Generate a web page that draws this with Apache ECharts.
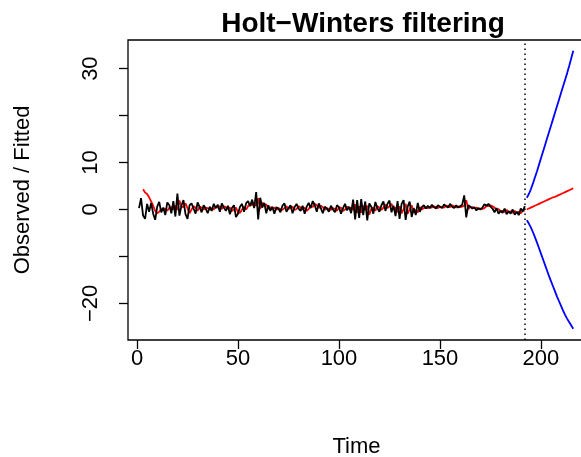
<!DOCTYPE html>
<html>
<head>
<meta charset="utf-8">
<script src="https://cdn.jsdelivr.net/npm/echarts@6/dist/echarts.min.js"></script>
<style>html,body{margin:0;padding:0;background:#fff}#c{width:581px;height:457px}</style>
</head>
<body>
<div id="c"></div>
<script>
// Observed series, time 1..192
const observed = [
 0.3, 2.4, -1.3, -2.0, 1.2, -0.5, 1.4, -0.9, -2.2, 0.6,
 1.6, -0.6, 0.4, -1.2, 1.5, 0.9, -0.8, 1.8, -1.5, 3.4,
 -1.3, 0.8, 2.0, -1.0, -2.0, 0.9, 1.3, 0.2, -0.9, 1.5,
 0.5, -0.6, 0.9, 0.2, -0.8, 0.6, -0.3, 1.2, 0.3, 1.0,
 -0.5, 1.3, 0.4, -0.3, 0.8, -1.0, 0.3, 0.9, -1.6, -0.9,
 0.6, 1.2, -0.5, 1.3, 1.8, 0.7, 2.1, 0.3, 3.7, -2.1,
 2.5, 0.4, 1.4, -0.8, 0.9, -0.3, 0.6, -0.9, 0.5, 0.2,
 -0.6, 0.8, 1.3, -0.5, 0.3, 0.9, -0.8, 0.5, 1.2, 0.2,
 -0.3, 0.8, -0.9, 0.6, 1.4, 0.3, 1.8, 0.9, -0.5, 1.3,
 0.3, -0.8, 0.6, 0.2, -0.5, 0.8, 0.0, -0.6, 0.9, 0.5,
 -0.9, 0.3, 1.2, -0.2, 0.6, -0.8, 2.1, -2.1, 2.0, -1.8,
 2.2, -1.2, 1.7, -2.3, 1.3, 0.6, -0.9, 1.6, 0.3, -0.5,
 0.9, 1.7, -0.3, 1.2, 1.9, -0.6, 0.8, -1.4, 1.8, -2.0,
 1.2, 2.0, -2.2, 0.6, 1.7, -1.6, 0.3, -1.2, 1.4, -0.5,
 0.5, 0.9, 0.2, 0.8, 0.3, 1.0, 0.5, 0.2, 0.9, 0.6,
 0.3, 1.1, 0.7, 0.4, 1.2, 0.6, 0.3, 0.9, 0.4, 0.7,
 1.0, 3.0, -1.7, 0.9, 0.6, 0.2, 0.5, -0.2, 0.3, 0.0,
 0.4, 1.1, 0.8, 1.2, 0.6, 0.2, -0.6, 0.3, -0.9, -0.3,
 -0.7, 0.2, -1.0, -0.4, -0.9, 0.0, -1.1, -0.5, -1.2, 0.2, -0.4, 0.7
];
const observedStart = 1;

// Fitted values, time 3..192
const fitted = [
 4.3, 3.6, 3.3, 2.6, 1.7, 0.8, -0.3, -0.8,
 -0.5, 0.1, -0.1, 0.2, -0.3, 0.4, 0.5, 0.0, 0.8, -0.1,
 1.9, 0.6, 0.5, 1.3, 0.3, -0.8, 0.0, 0.7, 0.4, -0.3,
 0.6, 0.4, 0.0, 0.4, 0.3, -0.1, 0.3, 0.0, 0.6, 0.4,
 0.7, 0.1, 0.7, 0.5, 0.1, 0.4, -0.3, 0.0, 0.4, -0.6,
 -0.7, 0.0, 0.6, 0.0, 0.7, 1.2, 0.9, 1.5, 0.8, 2.4,
 0.1, 1.5, 0.8, 1.1, 0.1, 0.5, 0.1, 0.4, -0.1, 0.3,
 0.1, -0.1, 0.3, 0.7, 0.1, 0.3, 0.6, -0.1, 0.1, 0.7,
 0.4, 0.0, 0.4, -0.3, 0.1, 0.8, 0.5, 1.2, 0.9, 0.3,
 0.8, 0.5, -0.1, 0.3, 0.1, -0.1, 0.3, 0.1, -0.3, 0.4,
 0.4, -0.3, 0.0, 0.6, 0.1, 0.4, -0.1, 1.1, -0.7, 0.7,
 -0.7, 0.8, -0.1, 0.8, -1.1, 0.1, 0.4, -0.3, 0.7, 0.4,
 -0.1, 0.4, 1.1, 0.3, 0.7, 1.2, 0.1, 0.4, -0.6, 0.7,
 -0.8, 0.1, 1.2, -0.9, 0.0, 0.9, -0.7, -0.1, -0.6, 0.5,
 0.0, 0.3, 0.5, 0.3, 0.5, 0.4, 0.7, 0.5, 0.3, 0.6,
 0.5, 0.4, 0.8, 0.7, 0.5, 0.9, 0.7, 0.4, 0.7, 0.5,
 0.6, 0.8, 2.0, 0.1, 0.5, 0.5, 0.3, 0.4, 0.1, 0.2,
 0.1, 0.3, 0.7, 0.7, 0.9, 0.7, 0.4, 0.0, 0.1, -0.4,
 -0.3, -0.5, -0.1, -0.5, -0.4, -0.7, -0.3, -0.7, -0.5, -0.8, -0.3, -0.2
];
const fittedStart = 3;

// Predictions, time 193..216
const predFit = [0.0, 0.2, 0.4, 0.6, 0.8, 1.0, 1.2, 1.4, 1.6, 1.8, 2.0, 2.2,
                 2.4, 2.6, 2.7, 2.9, 3.1, 3.3, 3.5, 3.7, 3.9, 4.1, 4.3, 4.5];
const predUpper = [2.5, 3.3, 4.3, 5.5, 6.8, 8.1, 9.5, 10.9, 12.3, 13.7, 15.1, 16.5,
                   17.9, 19.3, 20.7, 22.1, 23.5, 24.9, 26.3, 27.7, 29.1, 30.6, 32.2, 33.8];
const predLower = [-2.3, -3.0, -3.8, -4.8, -5.9, -7.0, -8.2, -9.4, -10.6, -11.8, -13.0, -14.2,
                   -15.3, -16.4, -17.5, -18.6, -19.6, -20.6, -21.6, -22.5, -23.3, -24.0, -24.7, -25.4];
const predStart = 193;
const endObserved = 192;

const xTicks = [0, 50, 100, 150, 200];
const yTicks = [-20, -10, 0, 10, 20, 30];
const yLabels = [-20, 0, 10, 30];

const toPairs = (arr, start) => arr.map((v, i) => [start + i, v]);

const chart = echarts.init(document.getElementById('c'), null, {renderer: 'canvas'});
const font = 'Liberation Sans, Arial, Helvetica, sans-serif';
const fmt = v => (v < 0 ? '\u2212' + Math.abs(v) : String(v));

chart.setOption({
  animation: false,
  backgroundColor: '#fff',
  title: {
    text: 'Holt\u2212Winters filtering',
    left: 358, top: 5, textAlign: 'center',
    textStyle: {fontFamily: font, fontWeight: 'bold', fontSize: 28, color: '#000'}
  },
  grid: {left: 128, right: -4, top: 40, bottom: 117, outerBoundsMode: 'none', containLabel: false,
         show: true, borderColor: '#000', borderWidth: 1.3, backgroundColor: 'transparent'},
  xAxis: {
    type: 'value', min: -4.46, max: 221.8,
    axisLine: {show: false, onZero: false},
    splitLine: {show: false},
    axisTick: {show: true, inside: false, length: 9, customValues: xTicks, lineStyle: {color: '#000', width: 1.3}},
    axisLabel: {customValues: xTicks, margin: 8, fontFamily: font, fontSize: 22, color: '#000', formatter: fmt},
    name: 'Time', nameLocation: 'middle', nameGap: 96,
    nameTextStyle: {fontFamily: font, fontSize: 22, color: '#000'}
  },
  yAxis: {
    type: 'value', min: -27.8, max: 36.1,
    axisLine: {show: false, onZero: false},
    splitLine: {show: false},
    axisTick: {show: true, inside: false, length: 9, customValues: yTicks, lineStyle: {color: '#000', width: 1.3}},
    axisLabel: {customValues: yLabels, rotate: 90, margin: 26, fontFamily: font, fontSize: 22, color: '#000', formatter: fmt},
    name: 'Observed / Fitted', nameLocation: 'middle', nameGap: 94, nameRotate: 90,
    nameTextStyle: {fontFamily: font, fontSize: 22, color: '#000'}
  },
  series: [
    {
      type: 'line', data: toPairs(observed, observedStart), symbol: 'none',
      lineStyle: {color: '#000', width: 1.8}, z: 3,
      markLine: {
        symbol: 'none', silent: true, label: {show: false},
        lineStyle: {color: '#000', type: [1.5, 3.5], width: 1.5},
        data: [{xAxis: endObserved}]
      }
    },
    {
      type: 'line', data: toPairs(fitted, fittedStart), symbol: 'none',
      lineStyle: {color: '#ff0000', width: 1.8}, z: 2
    },
    {
      type: 'line', data: toPairs(predFit, predStart), symbol: 'none',
      lineStyle: {color: '#ff0000', width: 1.8}
    },
    {
      type: 'line', data: toPairs(predUpper, predStart), symbol: 'none',
      lineStyle: {color: '#0000ff', width: 1.8}
    },
    {
      type: 'line', data: toPairs(predLower, predStart), symbol: 'none',
      lineStyle: {color: '#0000ff', width: 1.8}
    }
  ]
});
</script>
</body>
</html>
